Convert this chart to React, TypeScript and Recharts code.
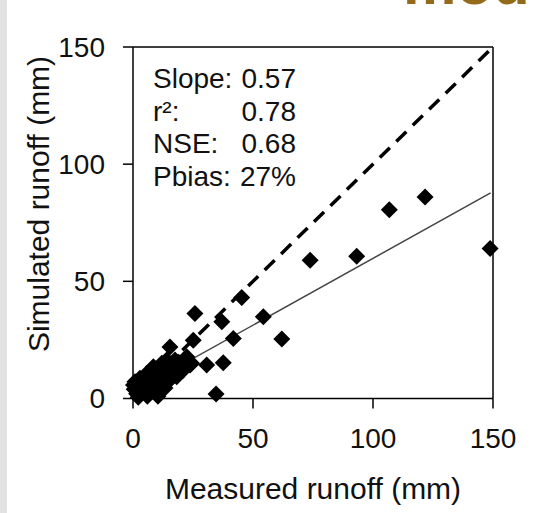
import { ScatterChart, Scatter, XAxis, YAxis, ReferenceLine, Label } from "recharts"

// measured vs simulated runoff (mm)
const measured = [
  148.8, 121.7, 106.8, 93.2, 73.8, 62.0, 54.3, 45.3, 41.8, 37.0, 37.6, 34.6,
  30.7, 25.8, 25.1, 23.8, 24.4, 22.4, 20.9, 17.5, 16.8, 15.4, 14.0, 12.0,
  12.6, 13.3, 11.2, 10.4, 9.2, 8.5, 6.2, 5.7, 4.3, 2.9, 2.2, 0.8, 0.5, 0.2,
  18.2, 19.6, 7.0, 3.0, 5.0, 9.5, 10.5, 13.0, 15.0, 17.0, 19.0, 11.0, 6.0,
  1.5, 14.5, 16.0, 21.5
]
const simulated = [
  64.0, 86.0, 80.6, 60.7, 59.0, 25.4, 34.9, 43.1, 25.6, 32.7, 15.3, 1.9,
  14.3, 36.3, 24.9, 14.3, 15.0, 17.8, 12.1, 16.4, 10.0, 22.0, 16.4, 15.0,
  7.2, 4.5, 9.3, 1.0, 5.8, 13.5, 2.3, 10.7, 5.0, 8.6, 0.5, 7.2, 4.0, 5.8,
  9.3, 13.0, 7.0, 3.0, 8.0, 8.0, 11.5, 12.0, 13.5, 13.0, 15.5, 4.0, 1.0,
  2.0, 7.0, 11.0, 14.0
]

const axisTicks = [0, 50, 100, 150]
const statLabels = ["Slope:", "r\u00b2:", "NSE:", "Pbias:"]
const statValues = ["0.57", "0.78", "0.68", "27%"]

const fitSlope = 0.57
const fitIntercept = 2.8
const fitFrom = 0
const fitTo = 149

const points = measured.map((m, i) => ({ x: m, y: simulated[i] }))

const FONT = "'Liberation Sans', Arial, sans-serif"

function Diamond(props: any) {
  const { cx, cy } = props
  const r = 8.5
  return (
    <path
      d={`M${cx} ${cy - r}L${cx + r} ${cy}L${cx} ${cy + r}L${cx - r} ${cy}Z`}
      fill="#000"
    />
  )
}

export default function App() {
  return (
    <div style={{ position: "absolute", left: 0, top: 0, width: 549, height: 513, background: "#fff" }}>
      <div style={{ position: "absolute", left: 0, top: 0, width: 7, height: 513, background: "#e2e2e2" }} />
      <ScatterChart
        width={549}
        height={513}
        margin={{ top: 47, right: 56, bottom: 0, left: 8 }}
      >
        <XAxis
          type="number"
          dataKey="x"
          domain={[0, 150]}
          ticks={axisTicks}
          interval={0}
          height={114.5}
          tickSize={10}
          tickMargin={20}
          axisLine={{ stroke: "#000", strokeWidth: 1.5 }}
          tickLine={{ stroke: "#000", strokeWidth: 1.5 }}
          tick={{ fontSize: 28, fill: "#111", fontFamily: FONT }}
        >
          <Label
            value="Measured runoff (mm)"
            position="insideBottom"
            offset={14}
            style={{ fontSize: 30, fill: "#111", fontFamily: FONT }}
          />
        </XAxis>
        <YAxis
          type="number"
          dataKey="y"
          domain={[0, 150]}
          ticks={axisTicks}
          interval={0}
          width={125}
          tickSize={10}
          tickMargin={18}
          axisLine={{ stroke: "#000", strokeWidth: 1.5 }}
          tickLine={{ stroke: "#000", strokeWidth: 1.5 }}
          tick={{ fontSize: 28, fill: "#111", fontFamily: FONT }}
        />

        <ReferenceLine y={150} stroke="#000" strokeWidth={1.5} />
        <ReferenceLine x={150} stroke="#000" strokeWidth={1.5} />

        <ReferenceLine
          segment={[{ x: 0, y: 0 }, { x: 150, y: 150 }]}
          stroke="#000"
          strokeWidth={3.5}
          strokeDasharray="14 9"
        />
        <ReferenceLine
          segment={[
            { x: fitFrom, y: fitIntercept + fitSlope * fitFrom },
            { x: fitTo, y: fitIntercept + fitSlope * fitTo }
          ]}
          stroke="#444"
          strokeWidth={1.5}
        />

        <Scatter data={points} shape={Diamond} isAnimationActive={false} />

        <text
          x={38}
          y={204}
          transform="rotate(-90, 38, 204)"
          textAnchor="middle"
          dy="0.35em"
          fontSize={30}
          fill="#111"
          fontFamily={FONT}
        >
          Simulated runoff (mm)
        </text>

        {statLabels.map((s, i) => (
          <g key={s}>
            <text x={153} y={88 + i * 32.7} fontSize={28} fill="#111" fontFamily={FONT}>
              {s}
            </text>
            <text x={296} y={88 + i * 32.7} fontSize={28} fill="#111" fontFamily={FONT} textAnchor="end">
              {statValues[i]}
            </text>
          </g>
        ))}

        <text x={403} y={4} fontSize={60} fontWeight="bold" fill="#936b1b" fontFamily={FONT}>
          mod
        </text>
      </ScatterChart>
    </div>
  )
}
